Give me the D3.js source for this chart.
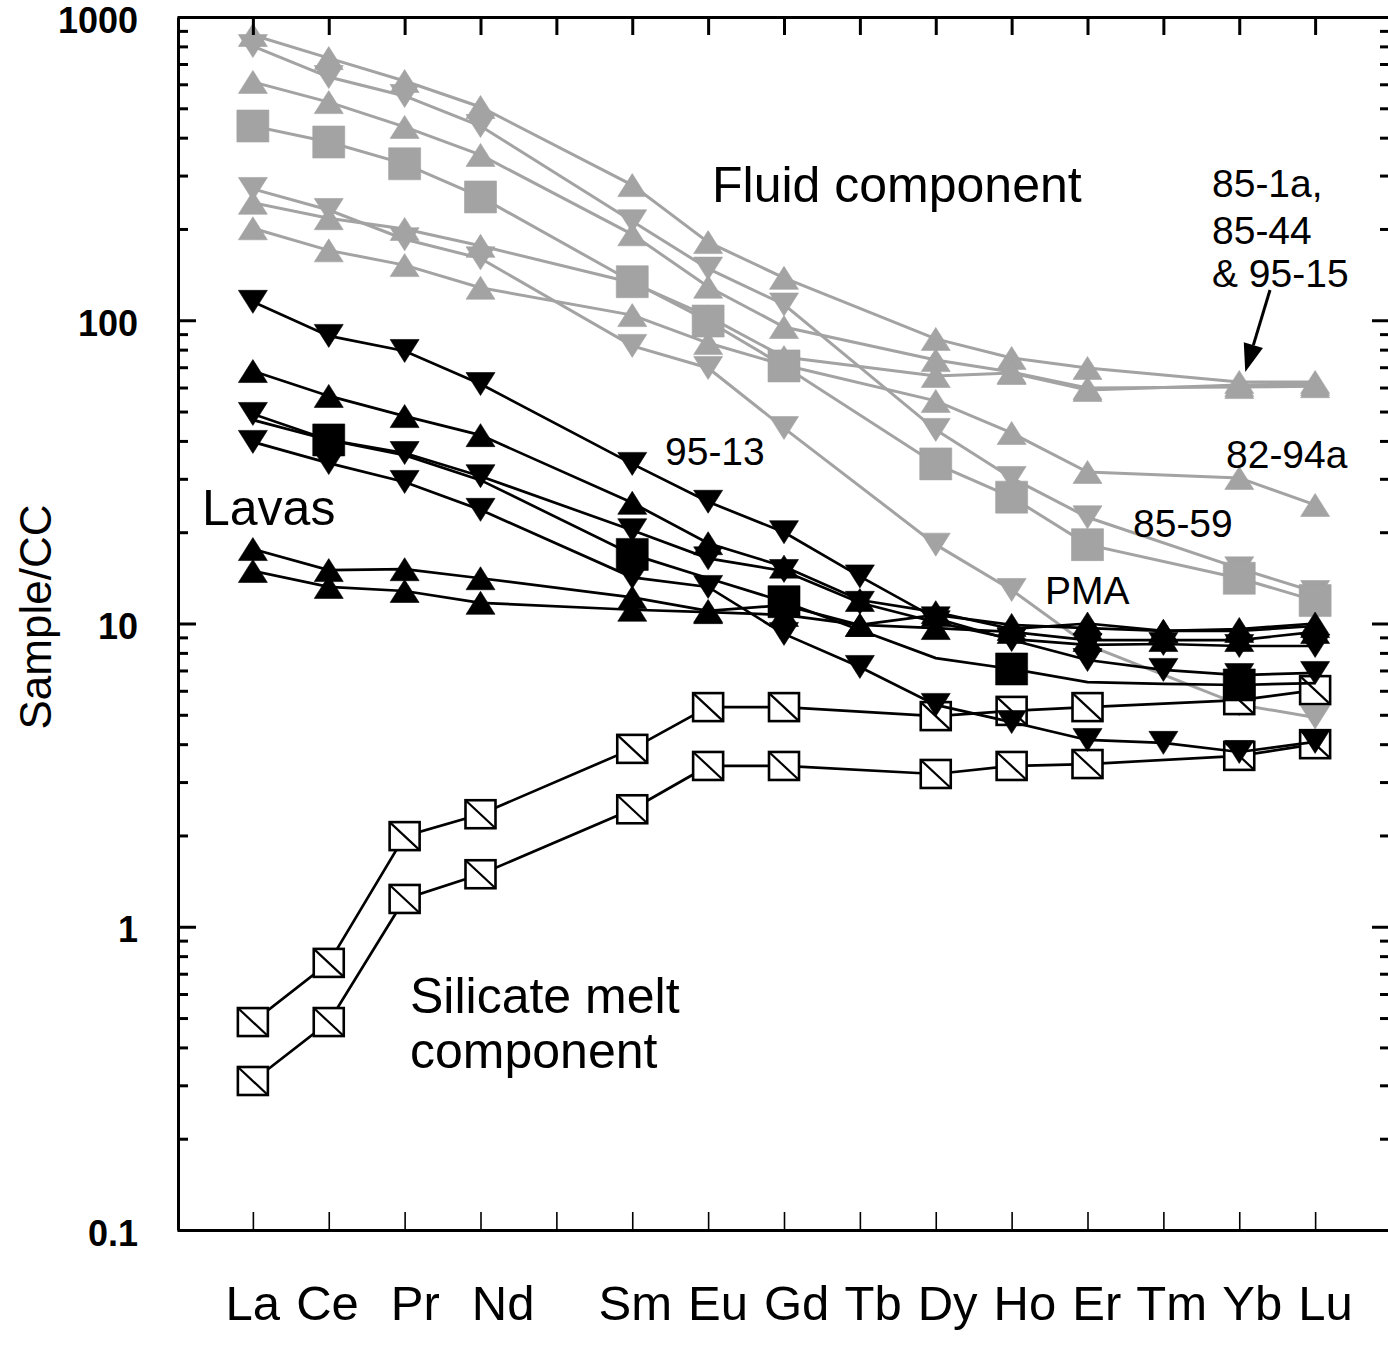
<!DOCTYPE html>
<html><head><meta charset="utf-8">
<script src="https://cdn.jsdelivr.net/npm/d3@7"></script>
<style>body{margin:0;background:#fff}svg{display:block}text{font-family:"Liberation Sans",Arial,sans-serif}</style>
</head><body>
<svg id="c" width="1388" height="1352"></svg>
<script>
// ---- categories ----
const elements = ["La","Ce","Pr","Nd","Pm","Sm","Eu","Gd","Tb","Dy","Ho","Er","Tm","Yb","Lu"];
const xLabels = ["La","Ce","Pr","Nd","Sm","Eu","Gd","Tb","Dy","Ho","Er","Tm","Yb","Lu"];
const xLabelGaps = [1, 2, 2, 4, 1, 1, 1, 1, 1, 1, 1, 1, 1]; // spaces typed between labels in the original row
const fluidElems = ["La","Ce","Pr","Nd","Sm","Eu","Gd","Dy","Ho","Er","Yb","Lu"];
const lavaElems = ["La","Ce","Pr","Nd","Sm","Eu","Gd","Tb","Dy","Ho","Er","Tm","Yb","Lu"];
const yTickLabels = [0.1, 1, 10, 100, 1000];
const yMinorTicks = [0.2,0.3,0.4,0.5,0.6,0.7,0.8,0.9,2,3,4,5,6,7,8,9,20,30,40,50,60,70,80,90,200,300,400,500,600,700,800,900];

// ---- fluid component (grey) ----
const fluidA = [872, 732, 615, 505, 279, 181, 138, 86.8, 75.1, 69.6, 62.6, 62.6];
const fluidE = [802, 634, 549, 437, 212, 148, 112.7, 43.5, 30.2, 22.4, 15.2, 12.7]; // 85-59
const fluidC = [611, 524, 434, 351, 192, 129, 95.0, 73.9, 67.5, 59.8, 60.2, 60.6];
const fluidF = [437, 387, 328, 255, 134, 99.4, 70.7, 33.6, 26.1, 18.2, 14.1, 11.9];
const fluidG = [271, 231, 185, 160, 82.3, 69.6, 44.1, 18.2, 12.9, 8.5, 5.4, 4.9];   // PMA
const fluidX = [244, 217, 200, 176, 133, 103, 75.6, 65.5, 67.0, 58.9, 61.2, 61.6];
const fluidY = [201, 170, 152, 128, 104, 84.1, 71.2, 54.2, 42.5, 31.6, 30.2, 24.6]; // 82-94a

// ---- silicate melt component (open squares) ----
const melt1 = [0.485, 0.760, 1.99, 2.35, 3.86, 5.30, 5.30, 4.95, 5.15, 5.30, 5.59, 6.03];
const melt2 = [0.310, 0.485, 1.235, 1.49, 2.44, 3.39, 3.39, 3.19, 3.39, 3.44, 3.66, 4.00];

// ---- lavas (black) ----
const lava1 = [115, 88.8, 79.2, 61.6, 33.6, 25.2, 20.0, 14.3, 10.4, 8.82, 7.58, 7.03, 6.76, 6.87]; // 95-13
const lava2 = [68.0, 56.3, 48.3, 41.8, 25.0, 18.4, 15.4, 11.95, 10.9, 9.59, 10.0, 9.45, 9.59, 10.0];
const lava3 = [49.1, 40.3, 36.5, 30.6, 20.3, 16.4, 14.9, 11.7, 10.1, 8.89, 8.50, 8.56, 8.43, 8.43];
const lava4 = [46.9, 40.3, 35.9, 29.7, 16.9, 14.1, 11.8, 9.52, 7.69, 7.08, 6.41, 6.32, 6.27, 6.36];
const lava4Symbols = ["Ce", "Sm", "Gd", "Ho", "Yb"];
const lava5 = [39.7, 33.8, 29.3, 23.7, 14.2, 13.2, 9.24, 7.19, 5.39, 4.73, 4.13, 4.04, 3.77, 4.07];
const lava6 = [17.6, 15.0, 15.1, 14.1, 12.2, 11.0, 11.5, 9.89, 10.67, 9.89, 9.66, 9.45, 9.45, 9.81];
const lava7 = [14.9, 13.2, 12.8, 11.7, 11.1, 10.9, 10.67, 9.89, 9.66, 9.38, 8.82, 8.82, 8.82, 9.38];

const GREY = "#a3a3a3";
const svg = d3.select("#c");
const x = d3.scaleLinear().domain([-1, 15]).range([177, 1391]);
const y = d3.scaleLog().domain([0.1, 1000]).range([1230, 17]);

const series = [
  {elems: fluidElems, vals: fluidA, shape: "up", color: GREY},
  {elems: fluidElems, vals: fluidE, shape: "down", color: GREY},
  {elems: fluidElems, vals: fluidC, shape: "up", color: GREY},
  {elems: fluidElems, vals: fluidG, shape: "down", color: GREY},
  {elems: fluidElems, vals: fluidX, shape: "up", color: GREY},
  {elems: fluidElems, vals: fluidY, shape: "up", color: GREY},
  {elems: fluidElems, vals: fluidF, shape: "square", color: GREY},
  {elems: fluidElems, vals: melt1, shape: "open", color: "#000"},
  {elems: fluidElems, vals: melt2, shape: "open", color: "#000"},
  {elems: lavaElems, vals: lava7, shape: "up", color: "#000"},
  {elems: lavaElems, vals: lava6, shape: "up", color: "#000"},
  {elems: lavaElems, vals: lava5, shape: "down", color: "#000"},
  {elems: lavaElems, vals: lava3, shape: "down", color: "#000"},
  {elems: lavaElems, vals: lava2, shape: "up", color: "#000"},
  {elems: lavaElems, vals: lava1, shape: "down", color: "#000"},
  {elems: lavaElems, vals: lava4, shape: "square", color: "#000", marks: lava4Symbols}
];

const shapePath = {
  up: "M-14.5,11.5L14.5,11.5L0,-11.5Z",
  down: "M-14.5,-11.5L14.5,-11.5L0,11.5Z",
  square: "M-16,-16H16V16H-16Z"
};

const line = d3.line().x(d => d.x).y(d => d.y);
const plot = svg.append("g");
series.forEach(s => {
  const pts = s.elems.map((e, i) => ({e, x: x(elements.indexOf(e)), v: s.vals[i]}))
    .filter(d => d.v != null).map(d => ({e: d.e, x: d.x, y: y(d.v)}));
  const g = plot.append("g");
  g.append("path").attr("d", line(pts)).attr("fill", "none")
    .attr("stroke", s.color).attr("stroke-width", s.color === GREY ? 3 : 2.7);
  pts.filter(p => !s.marks || s.marks.includes(p.e)).forEach(p => {
    if (s.shape === "open") {
      const m = g.append("g").attr("transform", `translate(${p.x},${p.y})`);
      m.append("rect").attr("x", -15).attr("y", -14).attr("width", 30).attr("height", 28)
        .attr("fill", "#fff").attr("stroke", "#000").attr("stroke-width", 2.6);
      m.append("line").attr("x1", -15).attr("y1", -14).attr("x2", 15).attr("y2", 14)
        .attr("stroke", "#000").attr("stroke-width", 2.2);
    } else {
      g.append("path").attr("d", shapePath[s.shape]).attr("transform", `translate(${p.x},${p.y})`)
        .attr("fill", s.color).attr("stroke", s.color).attr("stroke-width", 0.6).attr("stroke-linejoin", "round");
    }
  });
});

// ---- axes ----
function styleAxis(g, w) {
  g.selectAll(".domain").attr("stroke", "#000").attr("stroke-width", w);
  g.selectAll(".tick line").attr("stroke", "#000").attr("stroke-width", w);
}
const fmt = d3.format("~g");
const gl = svg.append("g").attr("transform", "translate(178,0)")
  .call(d3.axisLeft(y).tickValues(yTickLabels).tickSize(-18).tickSizeOuter(0).tickPadding(40).tickFormat(fmt));
styleAxis(gl, 3);
gl.selectAll("text").attr("font-size", 36).attr("font-weight", "bold").attr("fill", "#000")
  .attr("font-family", '"Liberation Sans",Arial,sans-serif').attr("dy", "0.42em");
const glm = svg.append("g").attr("transform", "translate(178,0)")
  .call(d3.axisLeft(y).tickValues(yMinorTicks).tickSize(-10).tickSizeOuter(0).tickFormat(""));
styleAxis(glm, 3); glm.select(".domain").remove();

const gr = svg.append("g").attr("transform", "translate(1390,0)")
  .call(d3.axisRight(y).tickValues(yTickLabels).tickSize(-18).tickSizeOuter(0).tickFormat(""));
styleAxis(gr, 3);
const grm = svg.append("g").attr("transform", "translate(1390,0)")
  .call(d3.axisRight(y).tickValues(yMinorTicks).tickSize(-10).tickSizeOuter(0).tickFormat(""));
styleAxis(grm, 3); grm.select(".domain").remove();

const idx = d3.range(elements.length);
const gt = svg.append("g").attr("transform", "translate(0,17)")
  .call(d3.axisTop(x).tickValues(idx).tickSize(-18).tickSizeOuter(0).tickFormat(""));
styleAxis(gt, 3);
const gb = svg.append("g").attr("transform", "translate(0,1230)")
  .call(d3.axisBottom(x).tickValues(idx).tickSize(-18).tickSizeOuter(0).tickFormat(""));
styleAxis(gb, 1.6); gb.select(".domain").attr("stroke-width", 3);

// element labels: typed as one spaced row, as in the original figure
const labelRow = xLabels.map((l, i) => l + (i < xLabelGaps.length ? " ".repeat(xLabelGaps[i]) : "")).join("");
const xt = svg.append("text").attr("y", 1320).attr("font-size", 49).attr("word-spacing", 2.4)
  .attr("fill", "#000").style("white-space", "pre").text(labelRow);
const halfLa = xt.node().getSubStringLength(0, 2) / 2;
xt.attr("x", x(elements.indexOf("La")) - halfLa);

// ---- y title ----
svg.append("text").attr("transform", "translate(51,617) rotate(-90)")
  .attr("text-anchor", "middle").attr("font-size", 44).text("Sample/CC");

// ---- annotations ----
const ann = [
  ["Fluid component", 712, 202, 50],
  ["Lavas", 202, 525, 50],
  ["Silicate melt", 410, 1013, 50],
  ["component", 410, 1068, 50],
  ["95-13", 665, 465, 39],
  ["85-1a,", 1212, 197, 39],
  ["85-44", 1212, 244, 39],
  ["& 95-15", 1212, 287, 39],
  ["82-94a", 1226, 468, 39],
  ["85-59", 1133, 537, 39],
  ["PMA", 1045, 604, 39]
];
svg.append("g").selectAll("text").data(ann).join("text")
  .attr("x", d => d[1]).attr("y", d => d[2]).attr("font-size", d => d[3]).attr("fill", "#000").text(d => d[0]);

// arrow to the three converging fluid series at Yb
const tipX = x(elements.indexOf("Yb")) + 6, tipY = y(fluidA[10]) - 10;
const sx = 1270, sy = 290;
const dx = tipX - sx, dy = tipY - sy, L = Math.hypot(dx, dy), ux = dx / L, uy = dy / L;
const bx = tipX - 28 * ux, by = tipY - 28 * uy;
svg.append("line").attr("x1", sx).attr("y1", sy).attr("x2", bx).attr("y2", by)
  .attr("stroke", "#000").attr("stroke-width", 3);
svg.append("path").attr("d", `M${tipX},${tipY}L${bx - 10 * uy},${by + 10 * ux}L${bx + 10 * uy},${by - 10 * ux}Z`)
  .attr("fill", "#000");
</script>
</body></html>
